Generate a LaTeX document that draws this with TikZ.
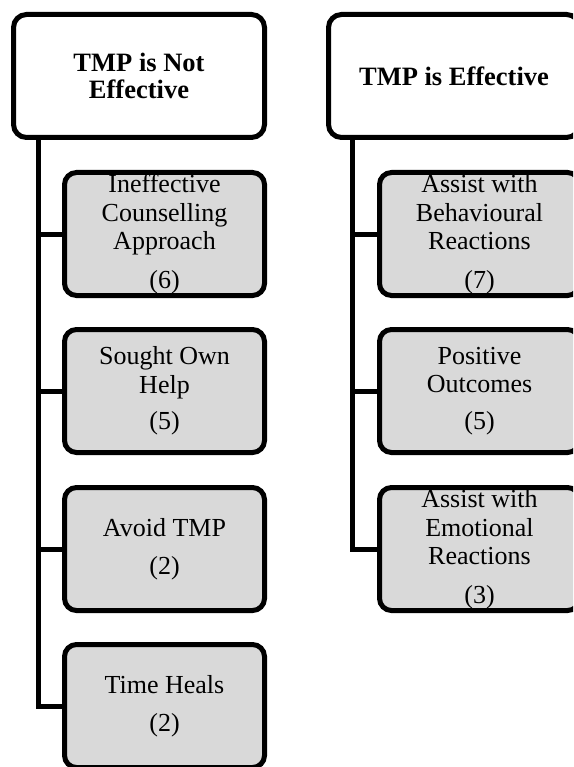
\documentclass[tikz,border=0pt]{standalone}
\usepackage{fontspec}
\setmainfont{Liberation Serif}
\definecolor{boxgray}{RGB}{217,217,217}
\tikzset{
  headbox/.style={draw, line width=5pt, rounded corners=13pt, fill=white,
    minimum width=251pt, minimum height=123pt, inner sep=0pt, align=center,
    font=\fontsize{26.5}{27}\selectfont\bfseries},
  itembox/.style={draw, line width=5pt, rounded corners=12pt, fill=boxgray,
    minimum width=200pt, minimum height=123pt, inner sep=0pt, align=center,
    font=\fontsize{26}{28.5}\selectfont},
  trunk/.style={line width=5pt, line join=miter}
}
\begin{document}
\begin{tikzpicture}[x=1pt, y=-1pt]
  \useasboundingbox (0,0) rectangle (573,767);
  \clip (0,0) rectangle (573,767);

  % left column: TMP is not effective
  \node[headbox] (hL) at (139,76) {TMP is Not\\Effective};
  \coordinate (tL) at (38.5,137.5);
  \node[itembox] (l1) at (164.5,234) {Ineffective\\Counselling\\Approach\\[10pt](6)};
  \node[itembox] (l2) at (164.5,391) {Sought Own\\Help\\[8pt](5)};
  \node[itembox] (l3) at (164.5,549) {Avoid TMP\\[10pt](2)};
  \node[itembox] (l4) at (164.5,706) {Time Heals\\[10pt](2)};

  % right column: TMP is effective
  \node[headbox] (hR) at (454,76) {TMP is Effective};
  \coordinate (tR) at (352.5,137.5);
  \node[itembox] (r1) at (479.5,234) {Assist with\\Behavioural\\Reactions\\[10pt](7)};
  \node[itembox] (r2) at (479.5,391) {Positive\\Outcomes\\[8pt](5)};
  \node[itembox] (r3) at (479.5,549) {Assist with\\Emotional\\Reactions\\[10pt](3)};

  % connectors
  \draw[trunk] (tL) |- (l4.west);
  \draw[trunk] (tL |- l1.west) -- (l1.west);
  \draw[trunk] (tL |- l2.west) -- (l2.west);
  \draw[trunk] (tL |- l3.west) -- (l3.west);

  \draw[trunk] (tR) |- (r3.west);
  \draw[trunk] (tR |- r1.west) -- (r1.west);
  \draw[trunk] (tR |- r2.west) -- (r2.west);
\end{tikzpicture}
\end{document}
